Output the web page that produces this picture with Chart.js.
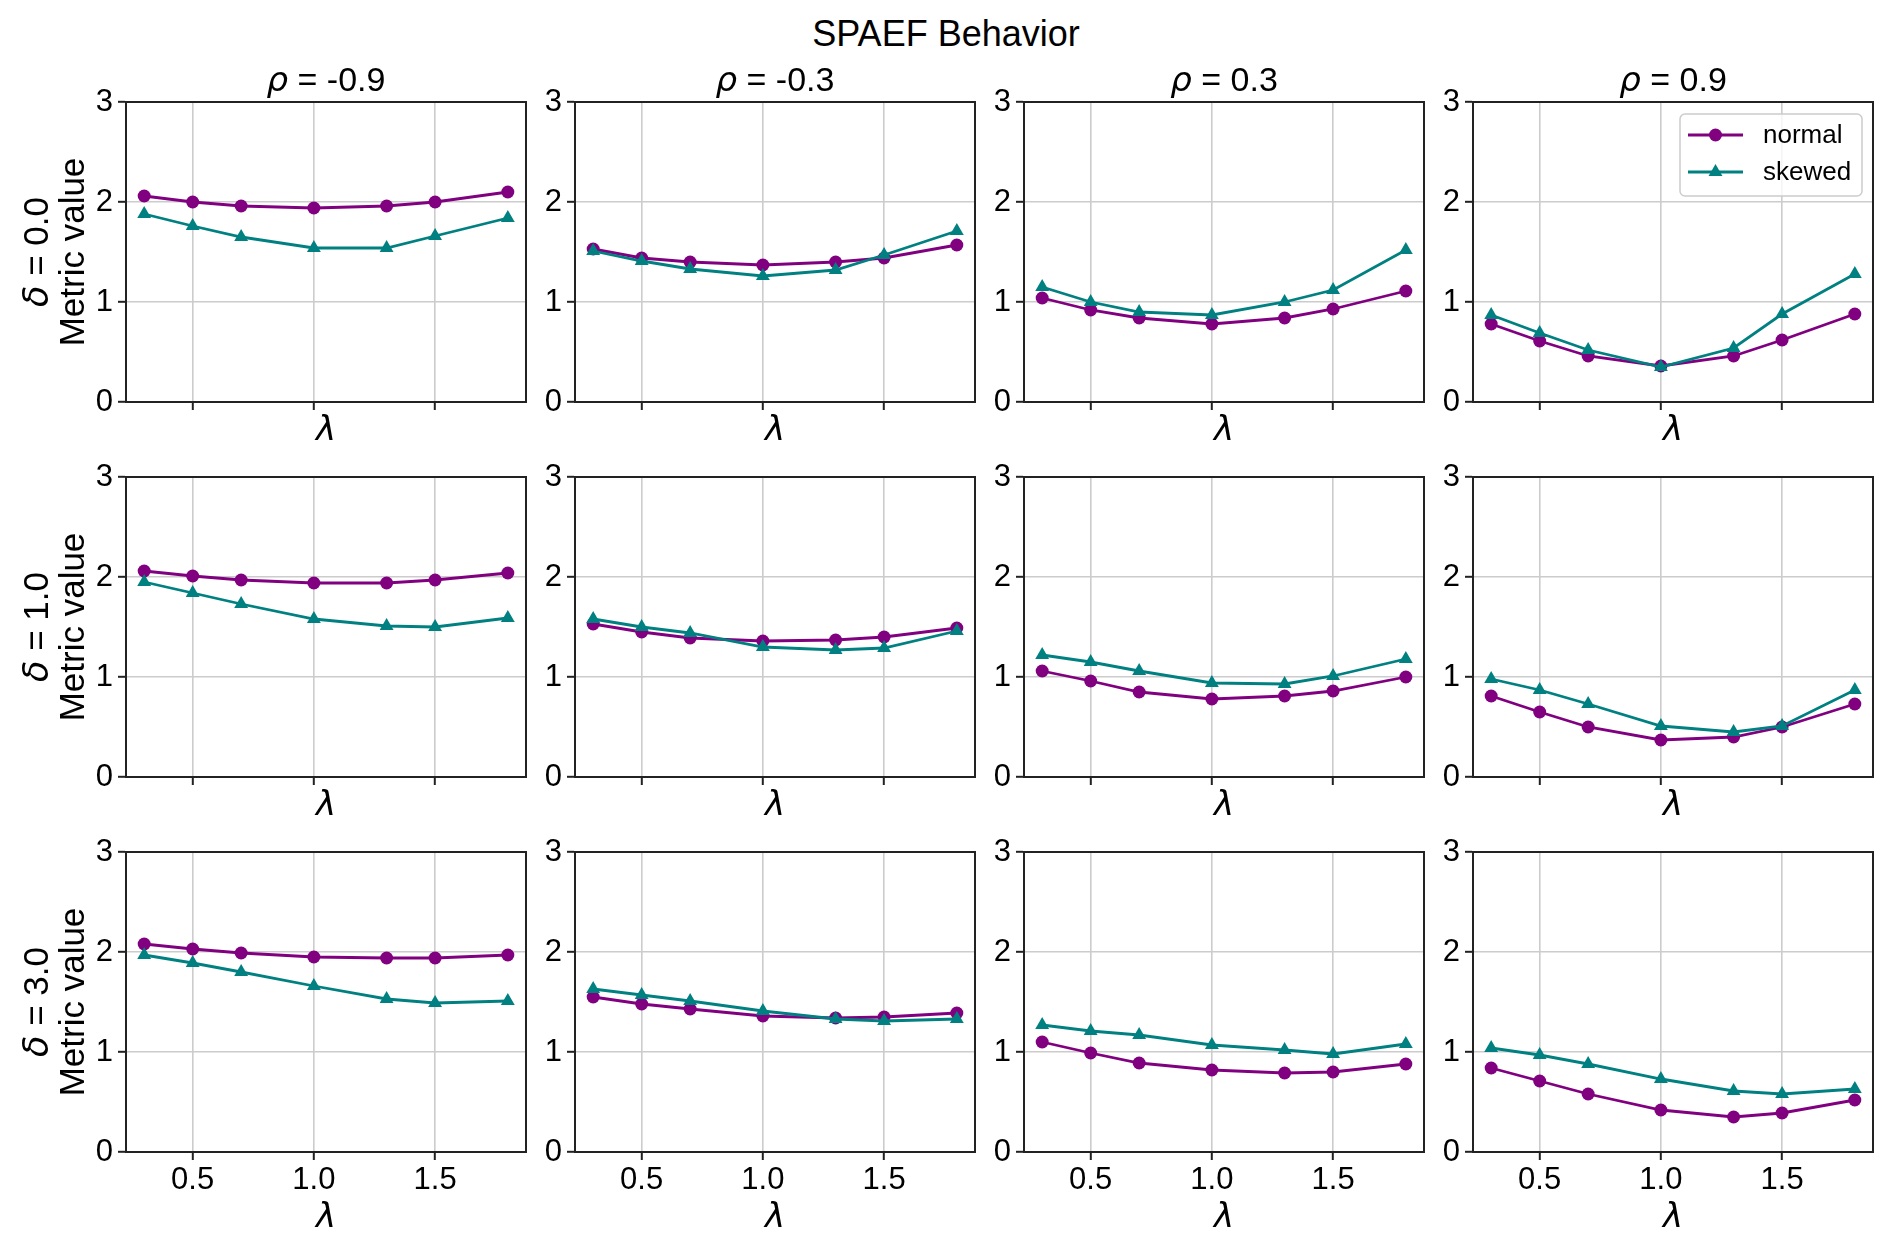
<!DOCTYPE html>
<html>
<head>
<meta charset="utf-8">
<script src="https://cdn.jsdelivr.net/npm/chart.js@4.4.1/dist/chart.umd.min.js"></script>
<style>
  html, body { margin: 0; padding: 0; background: #fff; }
  #fig { position: relative; width: 1892px; height: 1245px; overflow: hidden; background: #fff; }
  #fig canvas { position: absolute; }
  #suptitle {
    position: absolute; left: 0; top: 16px; width: 1892px;
    text-align: center; color: #000;
    font: 36px "Liberation Sans", Arial, sans-serif; line-height: 36px;
  }
</style>
</head>
<body>
<div id="fig">
  <div id="suptitle">SPAEF Behavior</div>
</div>
<script>
const lambdas = [0.3, 0.5, 0.7, 1.0, 1.3, 1.5, 1.8];
const rhoLabels = ['-0.9', '-0.3', '0.3', '0.9'];
const deltaLabels = ['0.0', '1.0', '3.0'];
const xTicks = [0.5, 1.0, 1.5];
const yTicks = [0, 1, 2, 3];
const seriesNames = ['normal', 'skewed'];

// one inner array per rho column (-0.9, -0.3, 0.3, 0.9)
const normalDelta0 = [
  [2.06, 2.00, 1.96, 1.94, 1.96, 2.00, 2.10],
  [1.53, 1.44, 1.40, 1.37, 1.40, 1.44, 1.57],
  [1.04, 0.92, 0.84, 0.78, 0.84, 0.93, 1.11],
  [0.78, 0.61, 0.46, 0.36, 0.46, 0.62, 0.88]
];
const skewedDelta0 = [
  [1.88, 1.76, 1.65, 1.54, 1.54, 1.66, 1.84],
  [1.51, 1.41, 1.33, 1.26, 1.32, 1.47, 1.71],
  [1.15, 1.00, 0.90, 0.87, 1.00, 1.12, 1.52],
  [0.87, 0.69, 0.52, 0.35, 0.54, 0.88, 1.28]
];
const normalDelta1 = [
  [2.06, 2.01, 1.97, 1.94, 1.94, 1.97, 2.04],
  [1.53, 1.45, 1.39, 1.36, 1.37, 1.40, 1.49],
  [1.06, 0.96, 0.85, 0.78, 0.81, 0.86, 1.00],
  [0.81, 0.65, 0.50, 0.37, 0.40, 0.50, 0.73]
];
const skewedDelta1 = [
  [1.95, 1.84, 1.73, 1.58, 1.51, 1.50, 1.59],
  [1.58, 1.50, 1.44, 1.30, 1.27, 1.29, 1.46],
  [1.22, 1.15, 1.06, 0.94, 0.93, 1.01, 1.18],
  [0.98, 0.87, 0.73, 0.51, 0.45, 0.51, 0.87]
];
const normalDelta3 = [
  [2.08, 2.03, 1.99, 1.95, 1.94, 1.94, 1.97],
  [1.55, 1.48, 1.43, 1.36, 1.34, 1.35, 1.39],
  [1.10, 0.99, 0.89, 0.82, 0.79, 0.80, 0.88],
  [0.84, 0.71, 0.58, 0.42, 0.35, 0.39, 0.52]
];
const skewedDelta3 = [
  [1.97, 1.89, 1.80, 1.66, 1.53, 1.49, 1.51],
  [1.63, 1.57, 1.51, 1.41, 1.33, 1.31, 1.33],
  [1.27, 1.21, 1.17, 1.07, 1.02, 0.98, 1.08],
  [1.04, 0.97, 0.88, 0.73, 0.61, 0.58, 0.63]
];

const normalRows = [normalDelta0, normalDelta1, normalDelta3];
const skewedRows = [skewedDelta0, skewedDelta1, skewedDelta3];

const PURPLE = '#800080';
const TEAL = '#008080';
const TEXT_FONT = '"Liberation Sans", Arial, sans-serif';
const MATH_FONT = '"DejaVu Sans", sans-serif';

// panel placement in the figure
const PANEL_LEFT0 = 126, PANEL_TOP0 = 102, COL_STEP = 449, ROW_STEP = 375;
const PANEL_W = 400, PANEL_H = 300;
const PAD_LEFT = 120, PAD_TOP = 80, PAD_RIGHT = 14, PAD_BOTTOM = 85;

function fontFor(part, size) {
  return part[1] ? `italic ${size}px ${MATH_FONT}` : `${size}px ${TEXT_FONT}`;
}

// draws text pieces (some italic greek) centred on x, baseline y
function drawMixed(ctx, parts, x, y, size) {
  let total = 0;
  parts.forEach(p => { ctx.font = fontFor(p, size); total += ctx.measureText(p[0]).width; });
  let cx = x - total / 2;
  ctx.textAlign = 'left';
  ctx.textBaseline = 'alphabetic';
  parts.forEach(p => {
    ctx.font = fontFor(p, size);
    ctx.fillText(p[0], cx, y);
    cx += ctx.measureText(p[0]).width;
  });
}

function drawMarker(ctx, style, r, x, y) {
  ctx.beginPath();
  if (style === 'triangle') {
    ctx.moveTo(x, y - r);
    ctx.lineTo(x + r * 0.866, y + r * 0.5);
    ctx.lineTo(x - r * 0.866, y + r * 0.5);
    ctx.closePath();
  } else {
    ctx.arc(x, y, r, 0, Math.PI * 2);
  }
  ctx.fill();
}

function drawLegend(chart) {
  const ctx = chart.ctx, a = chart.chartArea;
  const w = 182, h = 82;
  const x = a.right - 11 - w, y = a.top + 12;
  ctx.save();
  ctx.beginPath();
  ctx.roundRect(x, y, w, h, 5);
  ctx.fillStyle = 'rgba(255,255,255,0.8)';
  ctx.fill();
  ctx.strokeStyle = '#cccccc';
  ctx.lineWidth = 1.5;
  ctx.stroke();
  chart.data.datasets.forEach((ds, i) => {
    const ly = y + 21 + i * 37;
    ctx.strokeStyle = ds.borderColor;
    ctx.lineWidth = ds.borderWidth;
    ctx.beginPath();
    ctx.moveTo(x + 8, ly);
    ctx.lineTo(x + 63, ly);
    ctx.stroke();
    ctx.fillStyle = ds.backgroundColor;
    drawMarker(ctx, ds.pointStyle, ds.pointRadius, x + 35.5, ly);
    ctx.fillStyle = '#000';
    ctx.font = `26px ${TEXT_FONT}`;
    ctx.textAlign = 'left';
    ctx.textBaseline = 'middle';
    ctx.fillText(ds.label, x + 83, ly + 1);
  });
  ctx.restore();
}

const decor = {
  id: 'decor',
  afterDraw(chart, args, opts) {
    const ctx = chart.ctx, a = chart.chartArea;
    ctx.save();
    ctx.strokeStyle = '#222';
    ctx.lineWidth = 2;
    ctx.strokeRect(a.left, a.top, a.right - a.left, a.bottom - a.top);
    ctx.fillStyle = '#000';
    const cx = (a.left + a.right) / 2;
    if (opts.row === 0) {
      drawMixed(ctx, [['ρ', true], [' = ' + rhoLabels[opts.col], false]], cx, a.top - 11, 34);
    }
    drawMixed(ctx, [['λ', true]], cx, a.bottom + (opts.row === 2 ? 75 : 38), 34);
    if (opts.col === 0) {
      const cy = (a.top + a.bottom) / 2;
      ctx.save();
      ctx.translate(a.left - 78, cy);
      ctx.rotate(-Math.PI / 2);
      drawMixed(ctx, [['δ', true], [' = ' + deltaLabels[opts.row], false]], 0, 0, 35);
      ctx.restore();
      ctx.save();
      ctx.translate(a.left - 42, cy);
      ctx.rotate(-Math.PI / 2);
      drawMixed(ctx, [['Metric value', false]], 0, 0, 35);
      ctx.restore();
    }
    ctx.restore();
    if (opts.legend) drawLegend(chart);
  }
};

function points(vals) {
  return lambdas.map((x, i) => ({ x: x, y: vals[i] }));
}

function makePanel(row, col) {
  const fig = document.getElementById('fig');
  const cv = document.createElement('canvas');
  const w = PAD_LEFT + PANEL_W + PAD_RIGHT;
  const h = PAD_TOP + PANEL_H + PAD_BOTTOM;
  cv.width = w; cv.height = h;
  cv.style.width = w + 'px';
  cv.style.height = h + 'px';
  cv.style.left = (PANEL_LEFT0 + col * COL_STEP - PAD_LEFT) + 'px';
  cv.style.top = (PANEL_TOP0 + row * ROW_STEP - PAD_TOP) + 'px';
  fig.appendChild(cv);

  const tickFont = { family: TEXT_FONT, size: 31 };
  const showX = row === 2;

  new Chart(cv.getContext('2d'), {
    type: 'line',
    data: {
      datasets: [
        {
          label: seriesNames[0], data: points(normalRows[row][col]),
          borderColor: PURPLE, backgroundColor: PURPLE, borderWidth: 2.8,
          pointStyle: 'circle', pointRadius: 6.5, pointBorderWidth: 0,
          pointBackgroundColor: PURPLE, order: 1
        },
        {
          label: seriesNames[1], data: points(skewedRows[row][col]),
          borderColor: TEAL, backgroundColor: TEAL, borderWidth: 2.8,
          pointStyle: 'triangle', pointRadius: 8, pointBorderWidth: 0,
          pointBackgroundColor: TEAL, order: 0
        }
      ]
    },
    options: {
      responsive: false,
      animation: false,
      devicePixelRatio: 1,
      layout: { padding: { left: 0, top: PAD_TOP, right: PAD_RIGHT, bottom: 0 } },
      plugins: {
        legend: { display: false },
        tooltip: { enabled: false },
        decor: { row: row, col: col, legend: row === 0 && col === 3 }
      },
      scales: {
        x: {
          type: 'linear', min: 0.225, max: 1.875,
          afterBuildTicks: s => { s.ticks = xTicks.map(v => ({ value: v })); },
          afterFit: s => { s.height = PAD_BOTTOM; },
          ticks: {
            autoSkip: false, maxRotation: 0, padding: 2, color: '#000', font: tickFont,
            callback: v => showX ? Number(v).toFixed(1) : ''
          },
          grid: { color: '#cccccc', lineWidth: 1.6, tickColor: '#222', tickLength: 8, tickWidth: 2 },
          border: { color: '#222', width: 2 }
        },
        y: {
          min: 0, max: 3,
          afterBuildTicks: s => { s.ticks = yTicks.map(v => ({ value: v })); },
          afterFit: s => { s.width = PAD_LEFT; },
          ticks: { padding: 5, color: '#000', font: tickFont, callback: v => String(v) },
          grid: { color: '#cccccc', lineWidth: 1.6, tickColor: '#222', tickLength: 8, tickWidth: 2 },
          border: { color: '#222', width: 2 }
        }
      }
    },
    plugins: [decor]
  });
}

for (let r = 0; r < 3; r++) {
  for (let c = 0; c < 4; c++) makePanel(r, c);
}
</script>
</body>
</html>
